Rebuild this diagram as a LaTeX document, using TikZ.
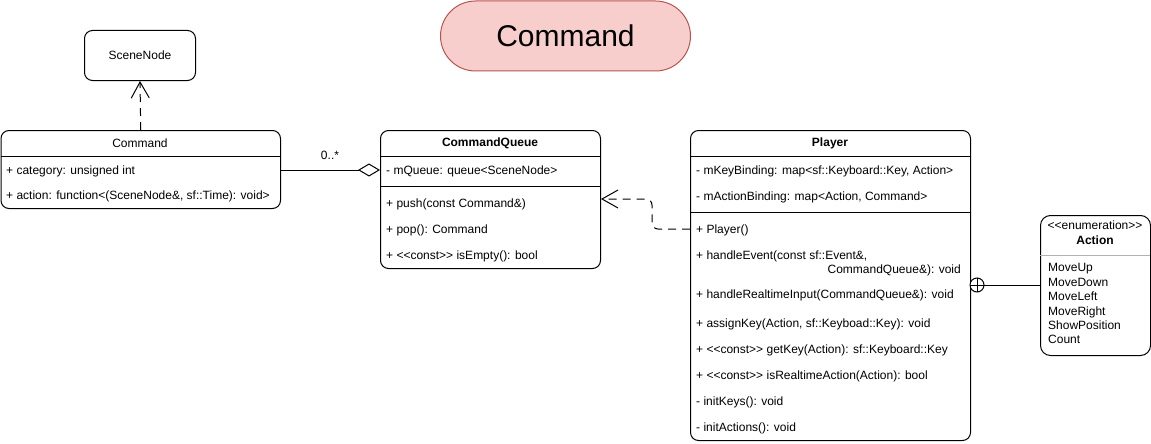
\documentclass[tikz,border=0pt]{standalone}
\usepackage{fontspec}
\setmainfont{Liberation Sans}
\usetikzlibrary{arrows.meta}
\definecolor{titlefill}{HTML}{F8CECC}
\definecolor{titledraw}{HTML}{B85450}
\begin{document}
\begin{tikzpicture}[x=1pt,y=-1pt,
  box/.style={draw, line width=1pt, rounded corners=8pt, anchor=north west, inner sep=0pt},
  sep/.style={line width=1pt},
  txt/.style={anchor=west, inner sep=0pt, font=\fontsize{12}{14}\selectfont},
  hdr/.style={inner sep=0pt, font=\fontsize{12}{14}\selectfont},
  bhdr/.style={inner sep=0pt, font=\fontsize{12}{14}\selectfont\bfseries},
  dep/.style={line width=1pt, dash pattern=on 8pt off 6pt},
  openarrow/.style={-{Straight Barb[length=16pt,width=18pt,line width=1pt]}},
]
\useasboundingbox (0,0) rectangle (1151,444);

% title
\node[draw=titledraw, fill=titlefill, line width=1pt, rounded corners=35pt, anchor=north west,
      minimum width=250pt, minimum height=70pt, inner sep=0pt,
      font=\fontsize{30}{36}\selectfont] (title) at (440,0.5) {Command};

% SceneNode
\node[box, minimum width=111pt, minimum height=50pt, font=\fontsize{12}{14}\selectfont] (scene) at (84,30) {SceneNode};

% Command
\node[box, minimum width=279.5pt, minimum height=78pt] (cmd) at (0.5,130) {};
\draw[sep] (0.5,156) -- (280,156);
\node[hdr] (cmdh) at (140,143.5) {Command};
\node[txt] (cmda1) at (6,171) {+ category: unsigned int};
\node[txt] (cmda2) at (6,196) {+ action: function<(SceneNode\&, sf::Time): void>};

% CommandQueue
\node[box, minimum width=220pt, minimum height=138pt] (cq) at (380,130) {};
\draw[sep] (380,156) -- (600,156);
\draw[sep] (380,186) -- (600,186);
\node[bhdr] (cqh) at (490,143.5) {CommandQueue};
\node[txt] (cqa1) at (386,171) {- mQueue: queue<SceneNode>};
\node[txt] (cqm1) at (386,204) {+ push(const Command\&)};
\node[txt] (cqm2) at (386,230) {+ pop(): Command};
\node[txt] (cqm3) at (386,256) {+ <{}<const>{}> isEmpty(): bool};

% Player
\node[box, minimum width=280pt, minimum height=310pt] (player) at (690,130) {};
\draw[sep] (690,156) -- (970,156);
\draw[sep] (690,212) -- (970,212);
\node[bhdr] (ph) at (830,143.5) {Player};
\node[txt] (pa1) at (696,171) {- mKeyBinding: map<sf::Keyboard::Key, Action>};
\node[txt] (pa2) at (696,197) {- mActionBinding: map<Action, Command>};
\node[txt] (pm1) at (696,230) {+ Player()};
\node[txt] (pm2) at (696,256) {+ handleEvent(const sf::Event\&,};
\node[txt, anchor=east] (pm2b) at (961,270) {CommandQueue\&): void};
\node[txt] (pm3) at (696,295) {+ handleRealtimeInput(CommandQueue\&): void};
\node[txt] (pm4) at (696,324) {+ assignKey(Action, sf::Keyboad::Key): void};
\node[txt] (pm5) at (696,350) {+ <{}<const>{}> getKey(Action): sf::Keyboard::Key};
\node[txt] (pm6) at (696,376) {+ <{}<const>{}> isRealtimeAction(Action): bool};
\node[txt] (pm7) at (696,402) {- initKeys(): void};
\node[txt] (pm8) at (696,428) {- initActions(): void};

% Action enumeration
\node[box, rounded corners=10pt, minimum width=110pt, minimum height=140pt] (action) at (1040,215) {};
\draw[line width=1pt, gray!60] (1040,255) -- (1150,255);
\node[hdr] (acts) at (1095,225.5) {<{}<enumeration>{}>};
\node[bhdr] (acth) at (1095,240.5) {Action};
\node[txt, align=left, anchor=north west, font=\fontsize{12}{14.4}\selectfont] (actl) at (1048,263.5)
  {MoveUp\\MoveDown\\MoveLeft\\MoveRight\\ShowPosition\\Count};

% Connectors
\draw[dep, openarrow] (cmd.north) -- (scene.south);

\draw[line width=1pt, -{Diamond[open, length=22pt, width=13pt, line width=1pt]}]
  (cmd.east |- 0,170) -- (cq.west |- 0,170);
\node[hdr] (mult) at (330,155) {0..*};

\draw[dep, openarrow, rounded corners=6pt]
  (player.west |- 0,229) -- (652,229) -- (652,199) -- (cq.east |- 0,199);

\coordinate (nestc) at (977,285);
\draw[line width=1pt] (action.west |- 0,285) -- (nestc);
\draw[line width=1pt, fill=white] (nestc) circle[radius=7pt];
\draw[line width=1pt] (970,285) -- (984,285) (977,278) -- (977,292);
\end{tikzpicture}
\end{document}
